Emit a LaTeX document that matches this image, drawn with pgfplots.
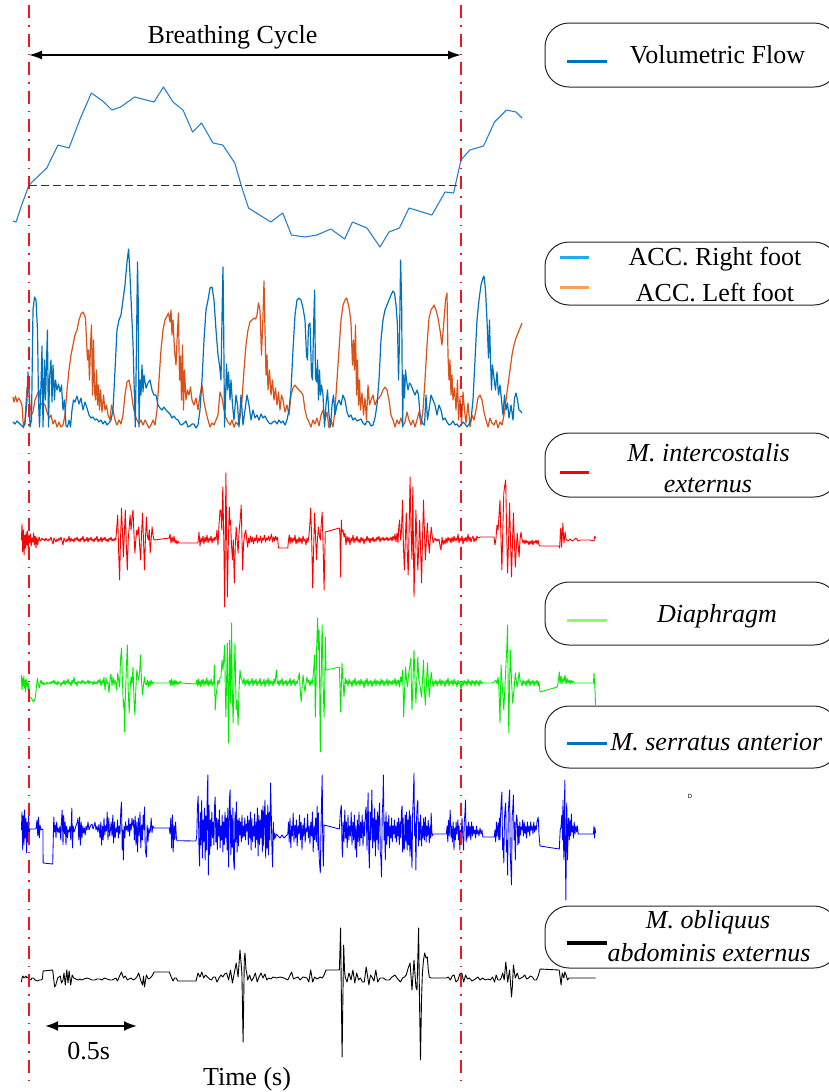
\documentclass[border=0pt]{standalone}
\usepackage{pgfplots}
\pgfplotsset{compat=1.18}
\usepackage{fontspec}
\setmainfont{Liberation Serif}
\newfontfamily\smallsans{Liberation Sans}
\usetikzlibrary{arrows.meta}

\definecolor{flowblue}{RGB}{40,128,205}
\definecolor{mblue}{RGB}{0,114,189}
\definecolor{morange}{RGB}{217,83,25}
\definecolor{legcyan}{RGB}{26,176,240}
\definecolor{legorange}{RGB}{245,162,98}
\definecolor{leggreen}{RGB}{136,255,102}
\definecolor{emgred}{RGB}{255,0,0}
\definecolor{emggreen}{RGB}{0,235,0}
\definecolor{emgblue}{RGB}{0,0,255}
\definecolor{cyclered}{RGB}{235,25,30}

\newcommand{\lbl}{\fontsize{26bp}{30bp}\selectfont}

\begin{document}
\begin{tikzpicture}
\useasboundingbox (0,0) rectangle (829bp,1092bp);
\begin{axis}[
  at={(0,0)}, anchor=south west,
  x=1bp, y=1bp, scale only axis,
  xmin=0, xmax=829, ymin=0, ymax=1092,
  y dir=reverse,
  hide axis, clip=false,
  every axis plot/.append style={line join=round, mark=none},
]

% ---------------- Volumetric flow ----------------
\addplot[flowblue, line width=1.1bp] coordinates {
(12.9,221)(16,222)(21,207)(29,185)(46.8,168)(58,145)(69,148)(80.5,118)(91.4,93)(102.7,101)(112,110)(120.6,107)(134.6,97)(154,102)(163.5,87)(173,102)(183,110)(192.6,132)(201.5,123)(213,143)(222.8,145)(234.8,163)(241.7,187)(248.5,208)(270.8,222)(282.8,213)(291.4,235)(305,237)(317,235)(330.8,229)(344.6,239)(352.5,222)(366.9,228)(380,247)(389,232)(399.4,228)(409,208)(432,215)(445,192)(453.6,193)(461,160)(469.8,150)(483.5,146)(494.5,122)(506.5,110)(516,112)(522,118)
};

% ---------------- Accelerometer, left foot ----------------
\addplot[morange, line width=1.2bp] coordinates {
(12.9,397)(14,402)(15.5,396)(17,402)(18.5,398)(20,400)(22,405)(23.5,428)(25,420)(27,388)(28.5,385)(30,405)(31.5,415)(33,412)(35,400)(37,395)(39,390)(41,405)(43,403)(45,405)(47,412)(49,418)(51,415)(53,424)(55,420)(57,427)(59,422)(61,427)(63,425)(65,415)(67,390)(69,370)(71,355)(73,345)(75,335)(77,330)(79,320)(81,314)(83,312)(84,314)(85.5,318)(86.5,340)(87.5,360)(88.5,350)(89.5,380)(90.5,345)(91.5,325)(92.5,395)(93.5,340)(94.5,390)(95.5,400)(96.5,370)(97.5,405)(98.5,385)(99.5,410)(100.5,390)(102,412)(103.5,395)(105,410)(106.5,405)(108,415)(110,420)(111.5,405)(113,410)(115,420)(117,425)(119,420)(121,424)(123,415)(125,395)(127,382)(129,380)(131,390)(133,405)(135,415)(137,420)(139,424)(141,420)(143,425)(145,420)(147,424)(149,428)(151,425)(153,420)(155,425)(157,410)(159,380)(161,350)(163,330)(165,320)(167,316)(168.5,313)(170,322)(171,310)(172,335)(173,320)(174.5,350)(176,365)(177.5,330)(178.5,313)(179.5,380)(180.5,356)(181.5,400)(182.5,345)(183.5,410)(184.5,370)(186,400)(187.5,390)(189,395)(190.5,387)(192,400)(194,405)(196,398)(198,410)(200,395)(202,385)(204,402)(206,412)(208,420)(210,427)(212,423)(214,425)(216,420)(218,415)(220,392)(222,398)(224,410)(226,418)(228,422)(230,425)(232,420)(234,427)(236,422)(238,425)(240,418)(242,400)(244,370)(246,345)(248,330)(250,322)(252,320)(254,318)(255.7,319)(257,315)(258.5,303)(260,310)(261.5,355)(262.5,330)(263.5,300)(264,281)(265,330)(266,375)(267,355)(268,390)(269.5,370)(271,395)(272.5,380)(274,400)(275.5,388)(277,405)(278.5,392)(280,410)(281.5,395)(283,400)(285,412)(287,405)(289,415)(291,395)(293,388)(295,385)(297,388)(299,390)(301,392)(303,395)(305,410)(307,418)(309,422)(311,427)(313,420)(315,424)(317,418)(319,426)(321,415)(323,410)(325,420)(327,412)(329,428)(331,420)(333,427)(335,410)(337,380)(339,350)(341,320)(343,305)(345,300)(346.6,298)(348,303)(349.5,310)(351,323)(352.5,365)(353.5,340)(354.5,370)(355.5,325)(356.5,395)(357.5,360)(358.5,405)(359.5,380)(360.5,410)(362,393)(363.5,415)(365,398)(366.5,420)(368,385)(369.5,405)(371,400)(373,395)(375,405)(377,400)(379,398)(381,395)(383,390)(385,387)(387,390)(389,400)(391,415)(393,420)(395,427)(397,420)(399,424)(401,418)(403,426)(405,422)(407,412)(409,420)(411,425)(413,420)(415,427)(417,420)(419,412)(421,425)(423,410)(425,380)(427,345)(429,318)(431,310)(433,307)(434,305)(436,310)(438,318)(440,330)(442,345)(444,320)(445.5,300)(447,293)(448,355)(449,380)(450,360)(451,395)(452,375)(453,400)(454.5,388)(456,410)(457.5,380)(458.5,420)(460,398)(461.5,425)(463,392)(464.5,410)(466,423)(468,403)(470,427)(472,415)(474,420)(476,410)(478,398)(480,395)(482,400)(484,412)(486,420)(488,427)(490,418)(492,423)(494,425)(496,420)(498,428)(500,422)(502,425)(504,415)(506,400)(508,385)(510,370)(512,355)(514,345)(516,338)(518,333)(520,328)(522,323)
};

% ---------------- Accelerometer, right foot ----------------
\addplot[mblue, line width=1.2bp] coordinates {
(12.9,422)(15,424)(17,421)(19,423)(21,425)(23,427)(25,424)(27,400)(28,372)(29,390)(30,427)(31.5,420)(33,310)(34.5,297)(36,300)(37.5,330)(38.5,400)(39.5,427)(41,385)(42,346)(43,427)(44.5,360)(45.5,400)(47.4,330)(48.5,427)(49.5,380)(51,360)(52,402)(53,365)(54.5,400)(55.5,380)(57,390)(58.5,384)(60,392)(61.5,385)(63,410)(64.5,400)(66,426)(67.5,427)(69,420)(70.5,427)(72,410)(73.5,400)(75,402)(77,396)(79,404)(81,398)(83,410)(85,402)(87,408)(89,415)(91,418)(93,417)(95,420)(97,419)(99,422)(101,420)(103,424)(105,421)(107,425)(109,423)(111,420)(113,410)(115,370)(117,330)(119,320)(121,315)(123,300)(125,285)(127,262)(128.6,249)(130,275)(131.5,310)(133,343)(134,380)(135.3,427)(136.3,360)(137.5,262)(138.2,300)(139,427)(140,380)(141,395)(142,365)(143,392)(144,375)(146,388)(148,383)(150,380)(152,390)(154,395)(156,395)(158,405)(160,408)(162,410)(164,407)(166,410)(168,412)(170,414)(172,418)(174,416)(176,419)(178,420)(180,424)(182,425)(184,423)(186,421)(188,427)(190,426)(192,424)(194,424)(196,428)(198,425)(200,410)(202,380)(204,340)(206,310)(208,300)(210,288)(212,287)(214,300)(216,330)(218,355)(219.5,365)(221,380)(222.3,300)(223,267)(223.7,330)(224.5,427)(225.5,400)(226.5,364)(227.5,390)(228.5,372)(230,400)(231,380)(232.5,405)(234,420)(236,395)(237.5,405)(239,427)(241,395)(243,425)(245,410)(247,395)(249,405)(251,420)(253,410)(255,418)(257,415)(259,420)(261,414)(263,418)(265,416)(267,420)(269,423)(271,424)(273,422)(275,421)(277,424)(279,420)(281,423)(283,421)(285,425)(287,420)(289,410)(291,390)(293,350)(295,315)(297,300)(299,298)(301,300)(303,308)(305,320)(306.5,355)(307.5,360)(308.5,325)(310,323)(311.5,375)(312.5,380)(313.5,330)(314.6,290)(315.5,378)(316.5,382)(317.5,360)(318.5,400)(319.5,370)(320.5,395)(321.5,385)(323,395)(324.5,427)(326,405)(327.5,390)(329,415)(330.5,427)(332,405)(333.5,395)(335,415)(337,405)(339,400)(341,405)(343,395)(345,400)(347,412)(349,417)(351,415)(353,420)(355,418)(357,421)(359,420)(361,419)(363,423)(365,425)(367,421)(369,422)(371,426)(373,425)(375,418)(377,405)(379,380)(381,340)(383,320)(385,310)(387,305)(389,300)(391,295)(393,291)(394.5,293)(396,305)(397.5,325)(398.5,380)(399.5,340)(400.6,260)(401.6,300)(402.6,427)(403.5,375)(404.5,398)(405.5,370)(406.5,380)(408,390)(409.5,383)(411,385)(413,390)(415,395)(417,390)(418.5,395)(420,414)(421.5,420)(423,424)(424.5,425)(426,395)(427.5,420)(429,410)(431,395)(433,400)(435,405)(437,415)(439,405)(441,410)(443,420)(445,418)(447,422)(449,425)(451,424)(453,421)(455,425)(457,424)(459,427)(461,425)(463,422)(465,424)(467,427)(469,424)(471,420)(473,400)(475,360)(477,320)(479,300)(481,285)(483,278)(484,276)(485.5,290)(487,320)(488.5,358)(489.5,320)(490.5,360)(491.5,390)(492.5,365)(494,378)(495.5,390)(497,372)(498.5,395)(500,385)(501.5,400)(503,415)(504.5,395)(506,410)(507.5,403)(509,418)(511,405)(513,420)(514.5,398)(516,393)(517.5,400)(519,410)(520.5,411)(522,413)
};

% ---------------- M. intercostalis externus ----------------
\addplot[emgred, line width=0.9bp] coordinates {
(21.4,540)(22,524)(22.7,552)(23.4,530)(24.1,555)(24.8,535)(25.5,548)(26.2,532)(26.9,545)(27.6,531)(28.3,550)(29,535)(29.7,543)(30.4,534)(31.2,546)(32,538)(32.8,542)(33.6,533)(34.4,545)(35.2,536)(36,548)(36.8,537)(37.6,545)(38.4,540)(39.2,537)(40,541)(41,540)(42,538)(43,540)(44,539)(45,541)(46,538)(47,540)(48,541)(49,539)(50,540)(51,537)(52,541)(53,544)(54,538)(55,540)(56,542)(57,539)(58,541)(59,538)(60,540)(61,537)(62,541)(63,545)(64,538)(65,540)(66,542)(67,539)(68,541)(69,536)(70,542)(71,538)(72,541)(73,539)(74,542)(75,538)(76,540)(77,537)(78,541)(79,539)(80,542)(81,538)(82,540)(83,536)(84,542)(85,539)(86,541)(87,537)(88,542)(89,538)(90,540)(91,537)(92,541)(93,539)(94,542)(95,538)(96,540)(97,536)(98,542)(99,539)(100,541)(101,537)(102,542)(103,538)(104,540)(105,537)(106,541)(107,539)(108,542)(109,538)(110,540)(111,537)(112,541)(113,539)(114,541)(115,538)(115.8,540)(116.7,528)(117.7,515)(118.6,550)(119.6,580)(120.5,540)(121.5,508)(122.4,530)(123.4,557)(124.3,535)(125.3,510)(126.3,545)(127.3,570)(128.2,540)(129.2,527)(130.1,515)(131,530)(132,518)(133,510)(134,535)(134.9,553)(135.8,540)(136.8,530)(137.7,535)(138.7,527)(139.6,545)(140.6,560)(141.5,535)(142.5,513)(143.5,540)(144.5,570)(145.4,540)(146.4,517)(147.3,535)(148.3,540)(149.3,530)(150.2,553)(151.1,540)(152.1,527)(153,535)(154,540)(169.3,538)(170,534)(171,543)(172,537)(173,542)(174,536)(175,543)(176,540)(177,544)(178,541)(179,543)(198,543)(199,532)(200,546)(201,538)(202,542)(203,536)(204,544)(205,537)(206,542)(207,535)(208,543)(209,538)(210,541)(211,536)(212,543)(213,538)(214,541)(215,537)(216,540)(217,530)(218,545)(219,525)(220,510)(220.9,510)(221.8,530)(222.8,487)(223.8,540)(224.7,607)(225.3,540)(225.9,473)(226.7,540)(227.4,597)(228.3,545)(229.3,507)(230,525)(230.5,520)(231.5,545)(232.4,560)(233.3,540)(234.3,583)(235.3,545)(236.2,527)(237.2,540)(238.1,553)(239.2,530)(240.2,520)(241.2,505)(242,540)(242.7,570)(243.5,545)(244.5,535)(245.8,530)(246.8,540)(247.7,547)(248.5,538)(249.5,543)(250.5,536)(251.5,542)(252.5,537)(253.5,544)(254.5,538)(255.5,541)(256.5,535)(257.5,543)(258.5,538)(259.5,541)(260.5,536)(261.5,543)(262.5,538)(263.5,540)(264.5,535)(265.5,542)(266.5,538)(267.5,540)(268.5,536)(269.5,541)(270.5,538)(271.5,534)(272.5,542)(273.5,537)(274.5,541)(275.5,536)(276.5,540)(277.5,537)(278.5,548)(287.8,548)(288.5,540)(289.3,535)(290,544)(291,537)(292,543)(293,538)(294,541)(295,535)(296,544)(297,539)(298,543)(299,537)(300,542)(301,538)(302,544)(303,536)(304,541)(305,539)(306,545)(307,538)(308,542)(309,535)(309.8,525)(310.7,508)(311.7,540)(312.7,588)(313.6,550)(314.6,513)(315.5,535)(316.5,560)(317.4,540)(318.4,527)(319.3,535)(320.3,540)(321.2,525)(322.2,512)(323.2,550)(324.1,590)(324.7,560)(325.3,532)(339.4,528)(340,535)(340.6,577)(341.3,520)(342,532)(343,530)(344,537)(345,533)(346,545)(347,536)(348,542)(349,537)(350,545)(351,538)(352,541)(353,535)(354,543)(355,538)(356,541)(357,536)(358,542)(359,539)(360,543)(361,537)(362,541)(363,538)(364,544)(365,539)(366,541)(367,536)(368,541)(369,538)(370,543)(371,538)(372,541)(373,537)(374,542)(375,539)(376,541)(377,537)(378,540)(379,536)(380,542)(381,538)(382,540)(383,537)(384,541)(385,538)(386,540)(387,537)(388,541)(389,538)(390,540)(391,537)(392,541)(393,536)(394,540)(395,534)(396,542)(397,533)(398,543)(398.7,528)(399.6,520)(400.6,540)(401.5,530)(402.5,500)(403.4,545)(404.4,570)(405.3,540)(406.3,513)(407.2,550)(408.2,575)(409.1,530)(410.1,477)(411,530)(412,560)(412.4,520)(412.8,487)(413.4,540)(414,597)(415,550)(415.9,510)(416.9,540)(417.8,570)(418.8,545)(419.7,520)(420.6,550)(421.6,583)(422.5,540)(423.5,500)(424.4,530)(425.4,560)(426.4,540)(427.4,523)(428.3,540)(429.3,553)(430.2,540)(431.2,527)(432.1,535)(433.1,543)(434,540)(435,538)(436,541)(437,539)(438,541)(439,539)(440,546)(441,550)(442,537)(443,545)(444,540)(445,544)(446,538)(447,543)(448,537)(449,541)(450,538)(451,543)(452,537)(453,542)(454,536)(455,541)(456,538)(457,541)(458,534)(459,543)(460,538)(461,541)(462,536)(463,544)(464,538)(465,541)(466,537)(467,542)(468,534)(469,541)(470,537)(471,542)(472,538)(473,536)(474,542)(475,538)(476,541)(477,536)(478,538)(480,537)(484,537)(488,537)(492,537)(494,537)(495,545)(496,538)(497,525)(498.1,530)(499,515)(500,500)(501,540)(501.9,570)(502.8,530)(503.8,493)(504.7,486)(505.7,480)(506.6,530)(507.6,573)(508.6,540)(509.6,503)(510.5,540)(511.5,577)(512.4,545)(513.4,513)(514.3,540)(515.3,567)(516.2,550)(517.2,533)(518.2,545)(519.1,557)(520,540)(521,532)(522,539)(523,543)(524,540)(525,544)(526,540)(527,543)(528,541)(529,545)(530,541)(531,544)(532,540)(533,545)(534,541)(535,543)(536,540)(537,544)(538,540)(539,545)(540,546)(559,546)(559.7,548)(560.4,530)(561,528)(561.6,547)(562.1,540)(562.9,523)(563.4,535)(564,543)(564.5,538)(565.1,532)(565.8,538)(566.6,540)(568,541)(570,539)(572,541)(574,540)(576,538)(578,541)(580,540)(585,540)(590,540)(594,541)(594.8,536)(595.6,538)
};

% ---------------- Diaphragm ----------------
\addplot[emggreen, line width=0.9bp] coordinates {
(21.4,675)(22,690)(22.6,678)(23.2,686)(23.8,676)(24.4,688)(25,680)(25.6,692)(26.2,679)(26.8,686)(27.4,682)(28,690)(28.6,683)(29.2,689)(29.8,697)(31,698)(32,699)(33.5,702)(34.5,700)(35.5,697)(36.3,688)(37.4,678)(38.3,684)(39.3,688)(40.2,683)(41.2,680)(42,684)(43,682)(44,685)(45,683)(46,684)(47,682)(48,684)(49,683)(50,682)(51,684)(52,681)(53,683)(54,680)(55,684)(56,682)(57,685)(58,681)(59,684)(60,683)(61,686)(62,682)(63,684)(64,680)(65,685)(66,681)(67,683)(68,679)(69,684)(70,682)(71,686)(72,680)(73,683)(74,677)(75,684)(76,682)(77,686)(78,681)(79,683)(80,682)(81,684)(82,680)(83,683)(84,681)(85,684)(86,682)(87,683)(88,680)(89,684)(90,681)(91,683)(92,682)(93,685)(94,681)(95,684)(96,682)(97,684)(98,680)(99,683)(100,679)(101,686)(102,680)(103,684)(104,677)(105,690)(106,678)(107,684)(108,682)(109,693)(110,679)(111,674)(112,686)(113,677)(114,685)(115,680)(115.8,683)(116.7,690)(117.7,673)(118.6,680)(119.6,687)(120.5,660)(121.5,648)(122.4,680)(123.4,707)(124,700)(124.6,732)(125.3,700)(126.1,677)(126.7,660)(127.3,645)(128.2,690)(129.2,713)(130,690)(131,677)(132,684)(133,667)(134,700)(134.9,715)(135.8,690)(136.8,670)(137.7,676)(138.7,680)(139.6,672)(140.6,655)(141.5,680)(142.5,695)(143.5,685)(144.5,677)(145.4,684)(146.4,685)(147.3,680)(148.2,687)(149.1,681)(150,686)(151,680)(152,684)(153,682)(154,683)(169.3,683)(170,680)(170.8,686)(171.6,679)(172.4,685)(173.2,681)(174,686)(174.8,680)(175.6,684)(176.4,681)(177.2,685)(178,682)(179,684)(180,681)(180.8,683)(196,684)(196.8,680)(197.6,686)(198.4,679)(199.2,685)(200,681)(200.8,687)(201.6,680)(202.4,684)(203.2,679)(204,686)(204.8,681)(205.6,684)(206.4,678)(207.2,685)(208,680)(208.8,686)(209.6,681)(210.4,684)(211.2,679)(212,686)(212.8,682)(213.6,684)(214.4,665)(215.2,710)(216.2,695)(217.1,687)(218,680)(219,684)(220,678)(221,677)(222,660)(223,670)(224.7,645)(225.3,690)(225.9,717)(226.6,680)(227.4,643)(228,700)(228.6,743)(229.1,680)(229.7,640)(230.1,675)(230.5,703)(231,670)(231.6,623)(232.3,690)(233.1,723)(234,680)(235,643)(235.6,680)(236.2,710)(237.1,700)(238.1,725)(239,690)(240,670)(241,678)(242,680)(243,684)(244,678)(245,686)(246,680)(247,684)(248,679)(249,686)(250,681)(251,684)(252,678)(253,686)(254,680)(255,684)(256,679)(257,686)(258,681)(259,684)(260,678)(261,686)(262,682)(263,684)(264,679)(265,687)(266,680)(267,684)(268,678)(269,686)(270,680)(271,684)(272,681)(273,686)(274,679)(275,684)(276.4,670)(277.4,684)(278.3,681)(279,686)(280,680)(281,684)(282,678)(283,686)(284,681)(285,684)(286,680)(287,686)(288,681)(289,684)(290,678)(291,686)(292,680)(293,684)(294,679)(295,686)(296,681)(297,684)(298,680)(299.3,673)(300.2,690)(301.2,702)(302.2,685)(303.1,675)(304,685)(305,692)(306,683)(307,677)(308,683)(309,680)(310,686)(311,680)(312,684)(312.7,680)(313.6,670)(314.6,655)(315.3,717)(316,690)(316.6,650)(317.6,618)(318.4,650)(319.2,630)(319.8,700)(320.3,752)(321,690)(321.6,650)(322.2,625)(323,680)(324.1,717)(324.7,690)(325.3,637)(326,670)(339.4,667)(340.6,712)(342,663)(344,697)(345.2,678)(346,684)(347,680)(348,686)(349,679)(350,684)(351,681)(352,687)(353,680)(354,684)(355,678)(356,686)(357,681)(358,684)(359,680)(360,686)(361,679)(362,684)(363,681)(364,688)(365,680)(366,684)(367,678)(368,686)(369,681)(370,684)(371,680)(372,687)(373,681)(374,684)(375,679)(376,686)(377,680)(378,684)(379,681)(380,686)(381,679)(382,684)(383,680)(384,686)(385,681)(386,684)(387,679)(388,686)(389,680)(390,684)(391,681)(392,685)(393,680)(394,684)(395,678)(396,686)(397,680)(398,684)(398.7,680)(399.6,687)(400.6,677)(401.5,682)(402.5,670)(403.1,690)(403.7,717)(404.6,690)(405.6,667)(406.5,680)(407.5,687)(408.5,675)(409.5,668)(410.9,658)(411.4,690)(412,710)(413,680)(414,650)(415,680)(415.9,703)(416.8,680)(417.8,657)(418.8,680)(419.7,683)(420.6,690)(421.6,697)(422.5,680)(423.5,660)(424.4,690)(425.4,705)(426.4,685)(427.4,663)(428.3,680)(429.3,697)(430.2,685)(431.2,672)(432.1,680)(433.1,687)(434,681)(435,684)(436,680)(437,686)(438,681)(439,684)(440,679)(441,686)(442,680)(443,684)(444,681)(445,687)(446,680)(447,684)(448,678)(449,686)(450,681)(451,684)(452,680)(453,686)(454,679)(455,684)(456,681)(457,687)(458,680)(459,684)(460,682)(461,690)(462,681)(463,686)(464,680)(465,684)(466,681)(467,686)(468,679)(469,684)(470,681)(471,686)(472,680)(473,684)(474,681)(475,686)(476,680)(477,684)(478,681)(479,686)(480,680)(481,684)(482,682)(483,683)(484,683)(486,683)(488,683)(490,683)(492,683)(494,682)(496,680)(497,684)(498.1,677)(499,690)(500,723)(500.6,690)(501.1,665)(502.5,690)(503.8,710)(504.8,690)(505.7,670)(506.7,650)(507.6,625)(508.2,690)(508.8,733)(509.5,690)(510.3,650)(511.5,680)(512.6,703)(514,690)(515.3,673)(516.2,680)(517.2,687)(518.2,680)(519.1,672)(520,680)(521,682)(522,686)(523,680)(524,684)(525,681)(526,686)(527,680)(528,684)(529,679)(530,686)(531,681)(532,684)(533,680)(534,686)(535,681)(536,684)(537,680)(538,686)(539,681)(540,692)(557.3,687)(558.5,680)(559.3,672)(560,684)(561,676)(562,684)(563,678)(564,682)(565,675)(566,684)(567,678)(568,683)(569,680)(570,684)(571,680)(572,683)(573,681)(574.5,683)(593.5,683)(594,673)(595,690)(595.6,705)
};

% ---------------- M. serratus anterior ----------------
\addplot[emgblue, line width=0.85bp] coordinates {
(21.4,830)(22,812)(22.7,850)(23.3,815)(24,845)(24.6,810)(25.3,838)(26,818)(26.6,853)(27.3,822)(28,842)(28.6,815)(29.3,835)(29.8,829)(31,829)(33,829)(35,829)(36,829)(37,820)(37.8,836)(38.5,817)(39.3,838)(40,825)(41,830)(42,829)(43,830)(43.1,863)(52.7,864)(53.8,817)(54.6,832)(55.3,825)(56,838)(56.7,822)(57.5,832)(58.2,828)(59,833)(60,826)(60.8,840)(61.5,820)(62.2,810)(63,845)(63.7,815)(64.5,834)(65.2,822)(66,845)(66.7,826)(67.5,838)(68.2,830)(69,832)(70,826)(70.8,840)(71.8,808)(72.5,848)(73.2,826)(74,832)(75,829)(76,826)(77,823)(78,818)(78.8,840)(79.6,817)(80.4,845)(81.2,822)(82,838)(82.8,826)(83.6,833)(84.4,828)(85.2,835)(86,826)(87,830)(88,822)(89,830)(90,827)(91,825)(92,824)(93,829)(94,826)(95,822)(96,830)(97,826)(98,832)(99,824)(100,838)(100.8,822)(101.6,845)(102.4,826)(103.2,840)(104,818)(104.8,835)(105.6,826)(106.4,831)(107.2,812)(108,840)(108.8,818)(109.6,836)(110.4,830)(111.2,822)(112,836)(112.8,815)(113.6,843)(114.4,822)(115.2,838)(116,828)(116.8,832)(117.6,820)(118.4,838)(119.2,826)(120,834)(120.8,810)(121.5,802)(122.2,850)(122.8,830)(123.4,860)(124,826)(124.8,838)(125.6,822)(126.4,830)(127.2,826)(128,832)(128.8,818)(129.6,836)(130.4,824)(131.2,830)(132,818)(132.8,826)(133.6,820)(134.4,840)(135.2,816)(136,845)(136.8,822)(137.6,852)(138.4,818)(139.2,836)(140,812)(140.8,848)(141.6,825)(142.4,840)(143.2,815)(144,830)(144.5,807)(145.3,850)(146.4,857)(147.2,825)(148,842)(148.8,828)(149.6,833)(150.4,830)(151.2,818)(152,833)(152.8,826)(154,828)(169.3,828)(170,834)(170.8,818)(171.6,848)(172.4,815)(173.2,852)(174,825)(174.8,840)(175.6,822)(176.4,838)(177,840.7)(196,841)(196.8,835)(197.5,805)(198.2,796)(199,850)(199.6,866)(200.3,812)(201,845)(201.7,800)(202.4,858)(203.1,820)(203.8,842)(204.5,808)(205.2,860)(205.9,816)(206.6,850)(207.3,790)(207.9,775)(208.4,875)(209,805)(209.7,855)(210.4,820)(211.1,846)(211.8,812)(212.5,838)(213.2,822)(213.9,845)(214.6,805)(215.2,797)(215.9,842)(216.6,818)(217.3,850)(218,820)(218.7,836)(219.4,810)(220.1,848)(220.8,826)(221.5,840)(222.2,815)(222.9,852)(223.6,822)(224.3,845)(225,812)(225.7,838)(226.4,818)(227.1,850)(227.8,808)(228.6,867)(229.4,800)(230.1,790)(230.8,855)(231.5,815)(232.2,848)(232.9,808)(233.6,860)(234.3,870)(235,812)(235.7,842)(236.4,802)(237.1,852)(237.8,820)(238.5,846)(239.2,818)(239.9,835)(240.6,822)(241.3,842)(242,815)(242.7,838)(243.4,826)(244.1,836)(244.8,818)(245.5,840)(246.2,824)(246.9,831)(247.6,816)(248.3,845)(249,820)(249.7,838)(250.4,812)(251.1,850)(251.8,818)(252.5,842)(253.2,826)(253.9,836)(254.6,814)(255.3,848)(256,822)(256.7,840)(257.4,808)(258.1,856)(258.8,815)(259.5,845)(260.2,820)(260.9,838)(261.6,810)(262.3,852)(263,806)(263.7,846)(264.4,812)(265,800)(265.7,858)(266.4,815)(267.1,848)(267.8,805)(268.5,855)(269.2,812)(269.9,840)(270.6,783)(271.3,815)(272,850)(272.6,867)(273.3,822)(274,840)(274.5,833)(275.2,838)(276.4,834)(278,836)(280,838)(282,835)(284,838)(286,836)(287.8,834)(288.5,822)(289.2,842)(290,818)(290.8,848)(291.6,826)(292.4,836)(293.2,813)(294,842)(294.8,825)(295.6,838)(296.4,820)(297.2,846)(298,826)(298.8,834)(299.6,815)(300.4,840)(301.2,822)(302,850)(302.8,825)(303.6,836)(304.4,818)(305.2,842)(306,828)(306.8,832)(307.6,814)(308.4,838)(309.2,826)(310,844)(310.8,822)(311.6,836)(312.4,812)(313.2,852)(314,826)(314.8,840)(315.6,818)(316.4,842)(317.2,806)(318,850)(318.4,813)(319.2,858)(320.3,873)(321,830)(321.6,800)(322.2,775)(322.8,848)(323.4,866)(324.1,825)(339.4,829)(340.2,815)(341.3,805)(342,845)(342.5,857)(343.2,822)(344,842)(344.8,810)(345.6,838)(346.4,822)(347.2,848)(348,815)(348.8,840)(349.6,826)(350.4,836)(351.2,812)(352,845)(352.8,822)(353.6,840)(354.4,815)(355.2,850)(356,826)(356.6,857)(357.4,820)(358.2,842)(359,812)(359.8,846)(360.6,822)(361.4,838)(362.2,815)(363,846)(363.8,822)(364.6,836)(365.4,812)(366.2,807)(367,850)(367.6,815)(368.1,793)(368.8,850)(369.4,868)(370.1,812)(370.8,840)(371.9,790)(372.6,848)(373.3,818)(374,842)(374.7,808)(375.4,856)(376.1,820)(376.8,840)(377.5,812)(378.2,850)(378.9,815)(379.6,803)(380.3,852)(381,860)(381.5,877)(382.2,815)(382.9,800)(383.4,775)(384.1,840)(384.7,822)(385.3,860)(386,812)(386.7,845)(387.4,822)(388.1,836)(388.8,815)(389.5,848)(390.2,826)(390.9,838)(391.6,818)(392.3,842)(393,826)(393.7,834)(394.4,820)(395.1,838)(395.8,826)(396.5,842)(397.2,822)(397.9,836)(398.6,818)(399.3,845)(400,822)(400.7,838)(401.4,812)(402.1,806)(402.5,852)(403.2,818)(403.8,850)(404.4,848)(405.1,815)(405.8,842)(406.5,812)(407.2,850)(407.9,820)(408.6,845)(409.3,810)(410,856)(410.7,815)(411.4,848)(412,868)(412.6,815)(413.2,800)(414,773)(414.6,836)(415.3,822)(415.9,870)(416.6,818)(417.2,805)(417.8,800)(418.5,846)(419.2,822)(419.9,840)(420.6,815)(421.6,846)(422.3,826)(423,838)(423.7,818)(424.4,840)(425.4,817)(426.1,842)(426.8,826)(427.5,836)(428.2,820)(429.3,843)(430,826)(430.6,838)(431.2,813)(432,836)(433,834)(446.4,834)(447.1,826)(447.8,842)(448.5,820)(449.2,836)(450.2,810)(451,838)(451.7,826)(452.4,842)(453.2,822)(454,850)(454.7,828)(455.4,840)(456.1,822)(456.8,834)(457.9,820)(458.6,840)(459.2,826)(459.8,850)(460.5,830)(461.2,838)(462,818)(462.8,836)(463.6,850)(464.3,822)(465,812)(465.5,800)(466.2,842)(467,826)(467.8,838)(468.5,822)(469.2,836)(470,826)(470.8,840)(471.6,822)(472.4,836)(473.2,826)(474,834)(474.8,830)(475.6,838)(476.4,826)(477.2,834)(478,830)(479,836)(480,828)(481,834)(482,830)(482.8,837)(494.3,837)(495,830)(495.7,842)(496.4,822)(497.1,836)(498.1,823)(498.8,840)(499.4,818)(500,840)(500.7,812)(501.3,800)(501.9,792)(502.6,850)(503.2,838)(503.8,863)(504.5,818)(505.1,808)(505.7,803)(506.4,852)(507,840)(507.6,875)(508.3,812)(509,800)(509.6,790)(510.2,850)(510.9,870)(511.5,885)(512.1,818)(512.8,808)(513.4,795)(514.1,840)(514.7,822)(515.3,860)(516,826)(516.6,815)(517.2,820)(517.9,845)(518.5,826)(519.1,843)(519.8,822)(520.4,835)(521,827)(521.8,830)(522.6,820)(523.4,836)(524.2,822)(525,834)(525.8,826)(526.6,838)(527.4,822)(528.2,832)(529,826)(529.8,836)(530.6,822)(531.4,830)(532.2,826)(533,834)(533.8,822)(534.6,832)(535.4,826)(536.2,830)(537,822)(538.2,817)(539,834)(540,846)(559.3,849)(560.2,830)(561,827)(561.8,815)(562.5,840)(563,800)(563.5,845)(564,860)(564.4,812)(564.8,780)(565.2,836)(565.9,900)(566.3,850)(566.7,803)(567.1,820)(567.5,860)(568,838)(568.6,818)(569.3,840)(570,820)(570.7,836)(571.4,814)(572.1,832)(572.8,826)(573.5,838)(574.2,822)(575,834)(575.8,826)(576.6,832)(577.4,826)(578.2,834)(593.5,834)(594,826)(594.5,838)(595,828)(595.6,833)
};

% ---------------- M. obliquus abdominis externus ----------------
\addplot[black, line width=0.9bp] coordinates {
(21.4,982)(22.2,977)(23,976)(24,978)(25,977)(26,976)(27,978)(27.9,977)(29,979)(30.9,980)(32,978)(33.6,978)(35,980)(37.4,981)(39.3,980)(41,980)(42.4,979)(43.1,971)(52.7,970)(54.6,987)(55.8,985)(57.7,978)(59,977)(60.3,976)(61.5,983)(63,980)(64,973)(65.3,985)(66.8,970)(68,983)(69.1,971)(70.7,985)(72.2,975)(73.7,978)(76,979)(78,980)(80,979)(81.4,980)(84,979)(87.1,978)(90,979)(92,980)(94.8,980)(97,979)(100,979)(102,980)(104.3,978)(107,979)(110,980)(112,980)(114,979)(116,978)(117.5,981)(119.6,976)(121.5,972)(123.4,978)(125.3,976)(127.3,980)(129,979)(131,978)(133,980)(135,979)(136.8,977)(138.7,973)(140.6,980)(142.5,985)(143.5,976)(144.5,987)(146.4,975)(148.3,979)(150.2,978)(152,976)(154,972)(169.3,972)(171.2,977)(173.1,981)(174.5,978)(176.2,978)(177.7,981)(196,981)(198,973)(200,977)(201.8,972)(203.7,978)(205.5,975)(207.5,977)(209.5,979)(211.4,980)(213.3,977)(215.2,977)(217,982)(219,978)(221,975)(222.8,977)(224.7,974)(226.6,973)(228.6,980)(230.5,970)(232.4,983)(234.3,973)(236.2,963)(238.1,977)(240,950)(241.9,973)(243.1,1042)(244.3,960)(245,953)(246,970)(246.6,972)(247.7,980)(249.6,975)(251.5,981)(253.4,978)(255.3,973)(257.2,982)(259,977)(261,973)(263,978)(264.9,974)(266.8,980)(268.7,978)(271,979)(273,977)(276.4,978)(280,977)(284,978)(287.8,980)(289.7,976)(291.6,972)(293.5,979)(295.4,978)(298,977)(300,980)(303,977)(306.9,978)(308.8,982)(310.7,970)(312.7,982)(314.6,977)(317,979)(320.3,977)(322.2,978)(324.1,975)(326,970)(339.4,970)(340.6,928)(341.3,990)(342.1,1057)(343,990)(343.7,945)(344.5,970)(345.2,977)(347,982)(349,973)(351,980)(352.9,970)(354.8,983)(356.7,973)(358.6,980)(360.5,978)(362.4,982)(364.3,982)(366.2,967)(368.9,985)(370.5,975)(372,977)(374,981)(375.8,970)(377.7,982)(380,978)(383.4,978)(386,980)(389.2,980)(392,977)(394.9,975)(397.7,979)(400.6,982)(402.5,978)(404.4,977)(406.3,975)(408.2,968)(410.1,963)(412,990)(414,960)(415.9,987)(417,990)(418.6,928)(419.5,1000)(420.5,1060)(421.5,1000)(422.4,973)(423.5,960)(424.7,953)(426,958)(427.3,957)(428.3,970)(429.3,977)(431,978)(433.1,978)(446.5,978)(448.4,977)(450.3,980)(452.2,976)(454.1,975)(456,982)(457.9,980)(459.8,974)(461.8,973)(463.7,982)(465.6,975)(467.5,979)(469.4,978)(472,981)(475.2,979)(478,977)(480,980)(482.8,978)(485,980)(488,979)(490.5,980)(492.5,977)(494.5,982)(496.2,975)(498,980)(500,980)(501.5,977)(502.7,973)(504.2,980)(505.8,962)(507.7,982)(509.6,970)(511.5,997)(512.5,985)(513.4,965)(515.3,978)(517.2,973)(519,979)(521,978)(522.9,977)(524.8,975)(526.7,979)(528.6,978)(530.5,976)(532.5,977)(534.4,980)(536.3,980)(538.2,976)(540.1,969)(559.2,970)(561.1,985)(562.3,973)(563.8,978)(564.8,972)(566.1,975)(567.5,980)(568.8,978)(595.6,978)
};

% ---------------- Breathing cycle markers ----------------
\draw[cyclered, line width=1.5bp, dash pattern=on 13bp off 7bp on 1.5bp off 7bp] (29,5) -- (29,1084);
\draw[cyclered, line width=1.5bp, dash pattern=on 13bp off 7bp on 1.5bp off 7bp] (461,5) -- (461,1084);
\draw[black!80, line width=1bp, dash pattern=on 8bp off 4bp] (29,185) -- (461,185);
\draw[black, line width=1.5bp, {Latex[length=13bp,width=9bp]}-{Latex[length=13bp,width=9bp]}] (29,55) -- (461,55);
\node[anchor=base, font=\lbl] at (232.5,43.3) {Breathing Cycle};

% ---------------- Time scale ----------------
\draw[black, line width=2bp, {Latex[length=13bp,width=10bp]}-{Latex[length=13bp,width=10bp]}] (45,1026) -- (137,1026);
\node[anchor=base, font=\lbl] at (88.7,1059) {0.5s};
\node[anchor=base, font=\lbl] at (247,1085) {Time (s)};
\node[font=\smallsans\fontsize{6bp}{7bp}\selectfont] at (690,796) {D};

% ---------------- Legend boxes ----------------
\tikzset{legbox/.style={draw=black!85, line width=1bp, rounded corners=24bp}}
\draw[legbox] (545,23) rectangle (838,87);
\draw[mblue, line width=3bp] (567,61) -- (607,61);
\node[anchor=base, font=\lbl] at (717.5,63.3) {Volumetric Flow};

\draw[legbox] (545,242) rectangle (838,305);
\draw[legcyan, line width=3bp] (560,257) -- (589,257);
\draw[legorange, line width=3bp] (560,287) -- (589,287);
\node[anchor=base, font=\lbl] at (715,265.7) {ACC. Right foot};
\node[anchor=base, font=\lbl] at (715,301.7) {ACC. Left foot};

\draw[legbox] (545,433) rectangle (838,497);
\draw[emgred, line width=3bp] (560,472) -- (589,472);
\node[anchor=base, font=\lbl\itshape] at (708.5,461.7) {M. intercostalis};
\node[anchor=base, font=\lbl\itshape] at (708,492.5) {externus};

\draw[legbox] (545,582) rectangle (838,645);
\draw[leggreen, line width=3bp] (567,620) -- (607,620);
\node[anchor=base, font=\lbl\itshape] at (717,622.7) {Diaphragm};

\draw[legbox] (545,706) rectangle (838,768);
\draw[mblue, line width=3bp] (567,743) -- (607,743);
\node[anchor=base, font=\lbl\itshape] at (716.5,750) {M. serratus anterior};

\draw[legbox] (545,906) rectangle (838,968);
\draw[black, line width=4bp] (567,943) -- (607,943);
\node[anchor=base, font=\lbl\itshape] at (708,928.7) {M. obliquus};
\node[anchor=base, font=\lbl\itshape] at (709,961) {abdominis externus};

\end{axis}
\end{tikzpicture}
\end{document}
